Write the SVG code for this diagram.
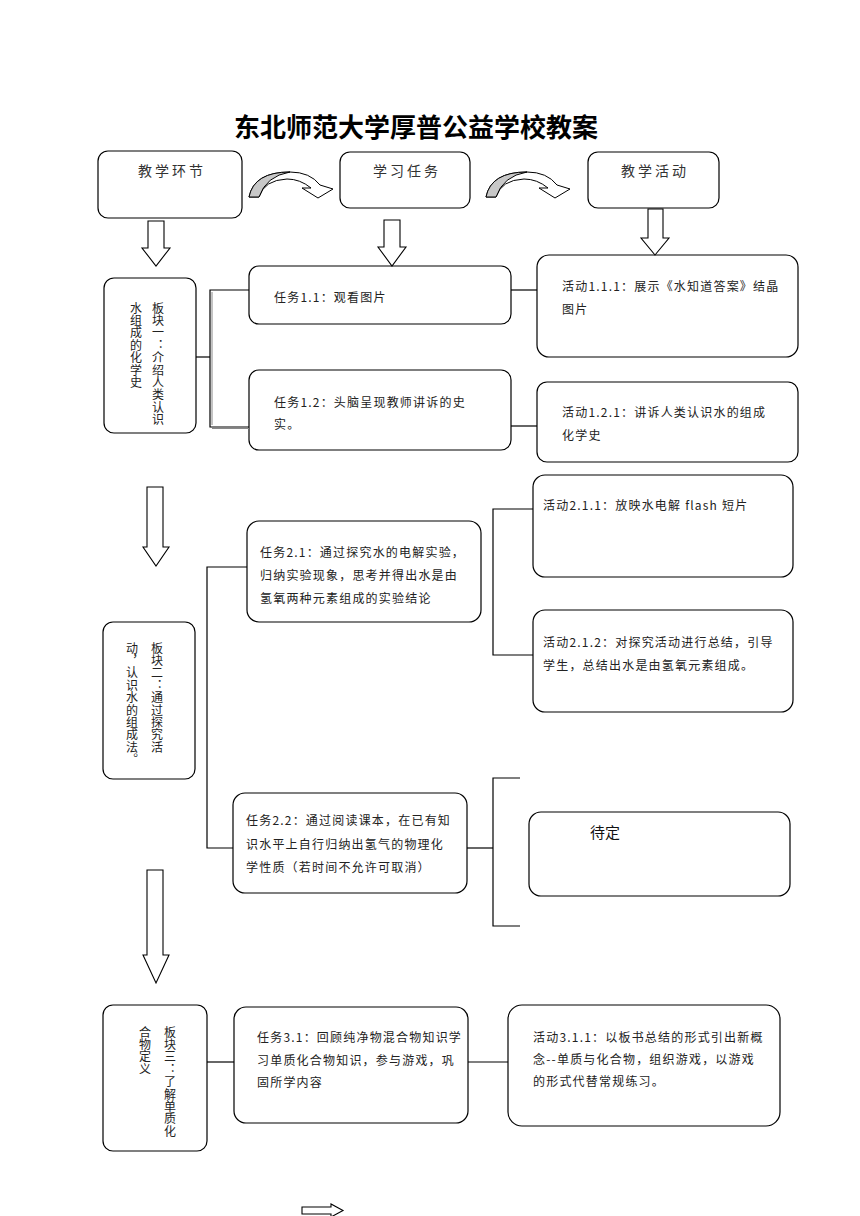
<svg xmlns="http://www.w3.org/2000/svg" width="860" height="1216" viewBox="0 0 860 1216">
<style>
.box{fill:#fff;stroke:#000;stroke-width:1.2}
.ln{fill:none;stroke:#000;stroke-width:1.2}
.ln2{fill:none;stroke:#888;stroke-width:1}
.barrow{fill:#fff;stroke:#000;stroke-width:1.1}
.t{font-family:"Noto Sans CJK SC","Liberation Serif",sans-serif;font-size:12px;fill:#222;letter-spacing:1.2px}
.h{font-family:"Noto Sans CJK SC",sans-serif;font-size:14px;fill:#333;letter-spacing:3px;text-anchor:middle}
.v{font-family:"Noto Sans CJK SC",sans-serif;font-size:12px;fill:#222;writing-mode:vertical-rl;letter-spacing:0.4px}
.title{font-family:"Noto Sans CJK SC",sans-serif;font-size:26px;font-weight:700;fill:#000;text-anchor:middle}
</style>
<defs>
<g id="curv">
<path d="M249,197 Q254,172 290,172 Q310,172 320,185 L333,189 L318,198 L302,188 L311,188 Q300,179 287,179 Q264,180 259,197 Z" fill="#fff" stroke="#000" stroke-width="1"/>
<path d="M249,197 Q254,172 290,172 Q266,176 259,197 Z" fill="#c8c8c8" stroke="#000" stroke-width="1"/>
</g>
</defs>
<rect width="860" height="1216" fill="#fff"/>
<text class="title" x="416" y="137">东北师范大学厚普公益学校教案</text>

<g id="header-jiaoxuehuanjie"><rect class="box" x="98" y="151" width="144" height="67" rx="10"/><text class="h" x="172" y="176">教学环节</text></g>
<g id="header-xuexirenwu"><rect class="box" x="340" y="152" width="130" height="56" rx="10"/><text class="h" x="407" y="176">学习任务</text></g>
<g id="header-jiaoxuehuodong"><rect class="box" x="588" y="152" width="131" height="56" rx="10"/><text class="h" x="655" y="176">教学活动</text></g>

<g id="block1"><rect class="box" x="104" y="278" width="92" height="155" rx="10"/>
<text class="v" x="158" y="302">板块一：介绍人类认识</text>
<text class="v" x="136" y="302">水组成的化学史</text></g>
<g id="task11"><rect class="box" x="249" y="266" width="262" height="58" rx="10"/><text class="t" x="274" y="302">任务1.1：观看图片</text></g>
<g id="task12"><rect class="box" x="249" y="370" width="262" height="80" rx="10"/><text class="t" x="274" y="407">任务1.2：头脑呈现教师讲诉的史</text><text class="t" x="274" y="429">实。</text></g>
<g id="act111"><rect class="box" x="537" y="255" width="261" height="102" rx="12"/><text class="t" x="562" y="291">活动1.1.1：展示《水知道答案》结晶</text><text class="t" x="562" y="314">图片</text></g>
<g id="act121"><rect class="box" x="537" y="382" width="261" height="80" rx="10"/><text class="t" x="562" y="417">活动1.2.1：讲诉人类认识水的组成</text><text class="t" x="562" y="440">化学史</text></g>

<g id="block2"><rect class="box" x="103" y="622" width="92" height="157" rx="10"/>
<text class="v" x="157" y="642">板块二：通过探究活</text>
<text class="v" x="132" y="642">动，认识水的组成法。</text></g>
<g id="task21"><rect class="box" x="247" y="521" width="234" height="101" rx="12"/><text class="t" x="260" y="557">任务2.1：通过探究水的电解实验，</text><text class="t" x="260" y="580">归纳实验现象，思考并得出水是由</text><text class="t" x="260" y="603">氢氧两种元素组成的实验结论</text></g>
<g id="act211"><rect class="box" x="533" y="475" width="260" height="102" rx="12"/><text class="t" x="543" y="510">活动2.1.1：放映水电解 flash 短片</text></g>
<g id="act212"><rect class="box" x="533" y="610" width="260" height="102" rx="12"/><text class="t" x="543" y="647">活动2.1.2：对探究活动进行总结，引导</text><text class="t" x="543" y="670">学生，总结出水是由氢氧元素组成。</text></g>
<g id="task22"><rect class="box" x="233" y="793" width="234" height="100" rx="12"/><text class="t" x="246" y="825">任务2.2：通过阅读课本，在已有知</text><text class="t" x="246" y="849">识水平上自行归纳出氢气的物理化</text><text class="t" x="246" y="872">学性质（若时间不允许可取消）</text></g>
<g id="daiding"><rect class="box" x="529" y="812" width="261" height="84" rx="12"/><text x="590" y="838" font-family="Noto Sans CJK SC, sans-serif" font-size="15" fill="#111">待定</text></g>

<g id="block3"><rect class="box" x="103" y="1005" width="104" height="146" rx="10"/>
<text class="v" x="170" y="1026">板块三：了解单质化</text>
<text class="v" x="145" y="1026">合物定义</text></g>
<g id="task31"><rect class="box" x="234" y="1007" width="234" height="116" rx="12"/><text class="t" x="257" y="1042">任务3.1：回顾纯净物混合物知识学</text><text class="t" x="257" y="1065">习单质化合物知识，参与游戏，巩</text><text class="t" x="257" y="1087">固所学内容</text></g>
<g id="act311"><rect class="box" x="508" y="1005" width="272" height="121" rx="14"/><text class="t" x="533" y="1042">活动3.1.1：以板书总结的形式引出新概</text><text class="t" x="533" y="1064">念--单质与化合物，组织游戏，以游戏</text><text class="t" x="533" y="1086">的形式代替常规练习。</text></g>

<g id="connectors">
<use href="#curv"/>
<use href="#curv" transform="translate(237,0)"/>
<polygon class="barrow" points="148,221 164,221 164,248 170,248 156,266 142,248 148,248"/>
<polygon class="barrow" points="384,220 400,220 400,247 406,247 392,266 378,247 384,247"/>
<polygon class="barrow" points="648,209 663,209 663,238 669,238 655,255 641,238 648,238"/>
<polygon class="barrow" points="147,487 163,487 163,547 169,547 156,566 143,547 147,547"/>
<polygon class="barrow" points="147,870 163,870 163,955 169,955 156,983 143,955 147,955"/>
<polygon class="barrow" points="302,1207 331,1207 331,1204 343,1210.5 331,1217 331,1214 302,1214"/>
<path class="ln" d="M196,357 H210"/>
<path class="ln" d="M249,290 H210 V427 H249"/>
<path class="ln2" d="M212,292 V425 M212,428.5 H249"/>
<path class="ln" d="M511,290 H537"/>
<path class="ln" d="M511,426 H537"/>
<path class="ln" d="M247,567 H207 V848 H233"/>
<path class="ln" d="M533,509 H493 V655 H533"/>
<path class="ln" d="M467,848 H493"/>
<path class="ln" d="M520,778 H493 V926 H520"/>
<path class="ln" d="M207,1062 H234"/>
<path class="ln" d="M468,1062 H508"/>
</g>
</svg>
